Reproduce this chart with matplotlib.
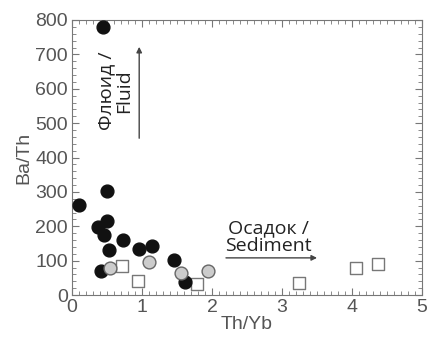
import matplotlib
matplotlib.use("Agg")
import matplotlib.pyplot as plt
from matplotlib.ticker import MultipleLocator

# Th/Yb vs Ba/Th
black_x = [0.45, 0.10, 0.50, 0.37, 0.50, 0.46, 0.53, 0.73, 0.96, 1.14, 1.46, 0.42, 1.61]
black_y = [780, 262, 302, 197, 215, 175, 131, 160, 134, 142, 102, 70, 38]

gray_x = [0.54, 1.10, 1.56, 1.95]
gray_y = [78, 97, 64, 70]

square_x = [0.72, 0.94, 1.78, 3.24, 4.06, 4.37]
square_y = [84, 41, 32, 35, 78, 90]

plt.rcParams['font.family'] = ['Liberation Sans', 'DejaVu Sans']
txt_col = '#555555'

fig = plt.figure(figsize=(4.31, 3.41), dpi=100)
ax = fig.add_axes([72/431, 46/341, 350/431, 275/341])

ax.scatter(black_x, black_y, s=85, c='#111111', edgecolors='#111111', zorder=3)
ax.scatter(gray_x, gray_y, s=85, c='#cccccc', edgecolors='#666666', linewidths=1.0, zorder=3)
ax.scatter(square_x, square_y, s=75, marker='s', facecolors='white', edgecolors='#777777',
           linewidths=1.0, zorder=2)

ax.set_xlim(0, 5)
ax.set_ylim(0, 800)
ax.xaxis.set_major_locator(MultipleLocator(1))
ax.xaxis.set_minor_locator(MultipleLocator(0.1))
ax.yaxis.set_major_locator(MultipleLocator(100))
ax.yaxis.set_minor_locator(MultipleLocator(20))
ax.tick_params(which='both', direction='in', top=True, right=True, colors='#777777',
               labelcolor=txt_col, labelsize=14)
ax.tick_params(which='major', length=5, pad=3)
ax.tick_params(which='minor', length=3)
for sp in ax.spines.values():
    sp.set_color('#777777')

ax.set_xlabel('Th/Yb', fontsize=14, color=txt_col, labelpad=0)
ax.set_ylabel('Ba/Th', fontsize=14, color=txt_col, labelpad=2)

# fluid and sediment trends
ax.annotate('', xy=(0.96, 730), xytext=(0.96, 448),
            arrowprops=dict(arrowstyle='-|>', color='#444444', lw=1.0, mutation_scale=8))
ax.text(0.62, 593, 'Флюид /\nFluid', rotation=90, ha='center', va='center',
        fontsize=14, color='#222222', family=['Open Sans', 'DejaVu Sans'], linespacing=0.95)
ax.annotate('', xy=(3.54, 108), xytext=(2.16, 108),
            arrowprops=dict(arrowstyle='-|>', color='#444444', lw=1.0, mutation_scale=8))
ax.text(2.8, 168, 'Осадок /\nSediment', ha='center', va='center',
        fontsize=14, color='#222222', family=['Open Sans', 'DejaVu Sans'], linespacing=0.95)

fig.savefig('out.png', dpi=100)
